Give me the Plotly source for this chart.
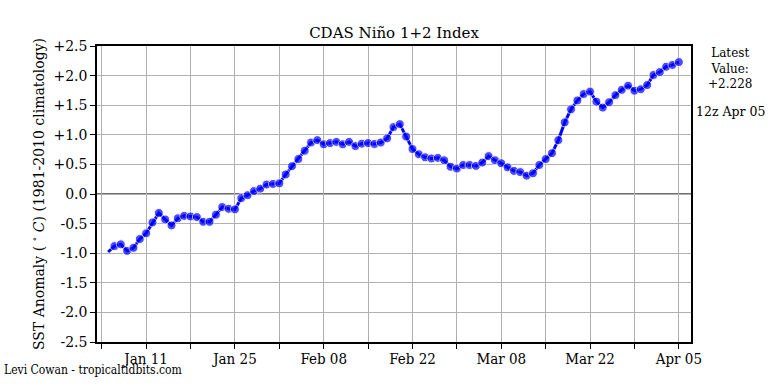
import pandas as pd
import plotly.graph_objects as go

dates = pd.date_range("2023-01-05", "2023-04-05", freq="D")
values = [
    -0.98, -0.88, -0.85, -0.96, -0.91, -0.76, -0.665, -0.48, -0.32, -0.43,
    -0.53, -0.41, -0.37, -0.38, -0.39, -0.47, -0.47, -0.35, -0.22, -0.25,
    -0.26, -0.07, -0.02, 0.05, 0.09, 0.16, 0.17,
    0.18, 0.33, 0.47, 0.59, 0.73, 0.87, 0.91, 0.84, 0.86, 0.88,
    0.84, 0.88, 0.81, 0.85, 0.86, 0.845, 0.87, 0.94, 1.13, 1.18,
    0.97, 0.76, 0.67, 0.62, 0.60, 0.61, 0.57, 0.46,
    0.43, 0.49, 0.49, 0.475, 0.53, 0.64, 0.57, 0.52, 0.45, 0.39,
    0.37, 0.31, 0.35, 0.49, 0.59, 0.69, 0.91, 1.21, 1.43, 1.58,
    1.69, 1.73, 1.56, 1.46, 1.55, 1.67, 1.76, 1.83, 1.745, 1.77, 1.84,
    2.01, 2.06, 2.15, 2.18, 2.228,
]
major_ticks = ["2023-01-11", "2023-01-25", "2023-02-08", "2023-02-22",
               "2023-03-08", "2023-03-22", "2023-04-05"]
major_labels = ["Jan 11", "Jan 25", "Feb 08", "Feb 22", "Mar 08", "Mar 22", "Apr 05"]
minor_ticks = ["2023-01-04", "2023-01-18", "2023-02-01", "2023-02-15",
               "2023-03-01", "2023-03-15", "2023-03-29"]
y_ticks = [2.5, 2.0, 1.5, 1.0, 0.5, 0.0, -0.5, -1.0, -1.5, -2.0, -2.5]
y_labels = ["+2.5", "+2.0", "+1.5", "+1.0", "+0.5", "0.0", "-0.5", "-1.0", "-1.5", "-2.0", "-2.5"]
latest_value = "+2.228"
latest_time = "12z Apr 05"

FONT = "DejaVu Serif"
COND = "DejaVu Serif Condensed"
sizes = [0] + [9] * (len(values) - 1)

L, R, T, B = 97, 691, 46, 342
PW, PH = R - L, B - T

fig = go.Figure()
fig.add_trace(go.Scatter(
    x=dates, y=values, mode="lines+markers",
    line=dict(color="#0000ff", width=3),
    marker=dict(color="#0000ff", size=sizes),
    showlegend=False, hoverinfo="skip",
))
fig.add_hline(y=0, line=dict(color="#404040", width=1.5), layer="below")

fig.update_layout(
    width=768, height=384,
    margin=dict(l=L, r=768 - R, t=T, b=384 - B, autoexpand=False),
    paper_bgcolor="white", plot_bgcolor="white",
    font=dict(family=FONT, color="black", size=14),
    title=dict(text="CDAS Niño 1+2 Index", x=(L + R) / 2 / 768, xanchor="center",
               xref="container", y=1 - 33 / 384, yanchor="middle",
               font=dict(family=FONT, size=15)),
)
fig.update_xaxes(
    range=["2023-01-03 06:00", "2023-04-06 22:00"],
    tickmode="array", tickvals=major_ticks, ticktext=major_labels,
    ticks="outside", ticklen=5, tickcolor="black", tickwidth=1,
    ticklabelstandoff=-3,
    showgrid=True, gridcolor="#b0b0b0", gridwidth=1,
    minor=dict(tickmode="array", tickvals=minor_ticks,
               ticks="outside", ticklen=5, tickcolor="black",
               showgrid=True, gridcolor="#b0b0b0", gridwidth=1),
    showline=True, linecolor="black", linewidth=1.5, mirror=True,
    tickfont=dict(family=COND, size=15),
    zeroline=False, automargin=False,
)
fig.update_yaxes(
    range=[-2.5, 2.5], tickmode="array", tickvals=y_ticks, ticktext=y_labels,
    ticks="outside", ticklen=5, tickcolor="black",
    showgrid=True, gridcolor="#b0b0b0", gridwidth=1,
    showline=True, linecolor="black", linewidth=1.5, mirror=True,
    zeroline=False, automargin=False,
    title=dict(text="SST Anomaly ( <sup>∘</sup> <i>C</i>) (1981-2010 climatology)",
               font=dict(family=FONT, size=14), standoff=6),
    tickfont=dict(family=FONT, size=14),
)
fig.add_annotation(text="Latest<br>Value:<br>" + latest_value, xref="paper", yref="paper",
                   x=(730 - L) / PW, y=1 + 2 / PH, xanchor="center", yanchor="top",
                   showarrow=False, align="center", font=dict(family=FONT, size=12))
fig.add_annotation(text=latest_time, xref="paper", yref="paper",
                   x=(730 - L) / PW, y=(B - 111) / PH, xanchor="center", yanchor="middle",
                   showarrow=False, font=dict(family=FONT, size=12.5))
fig.add_annotation(text="Levi Cowan - tropicaltidbits.com", xref="paper", yref="paper",
                   x=(2 - L) / PW, y=-(370 - B) / PH, xanchor="left", yanchor="middle",
                   showarrow=False, font=dict(family=COND, size=12))

fig.write_html("out.html", config={"displayModeBar": False},
               post_script="document.body.style.margin='0px';document.body.style.padding='0px';")
